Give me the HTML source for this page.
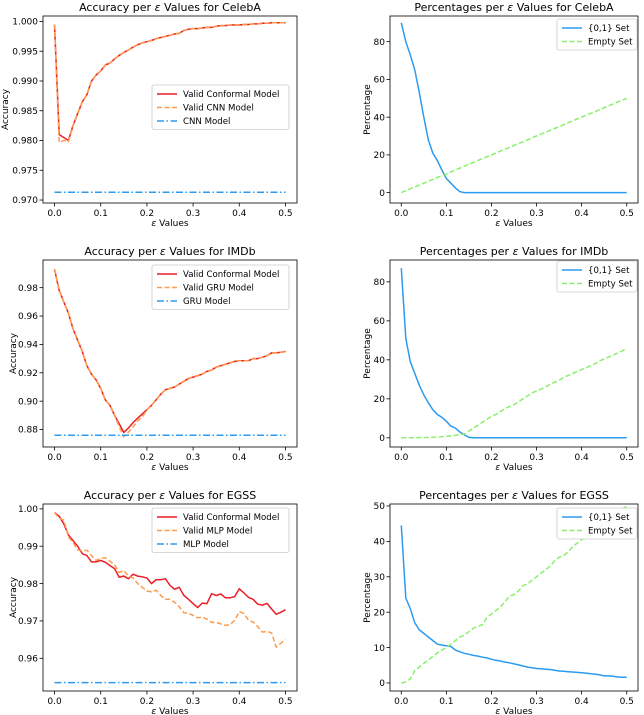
<!DOCTYPE html>
<html><head><meta charset="utf-8">
<style>
body{margin:0;background:#fff;}
svg{display:block;font-family:"DejaVu Sans","Liberation Sans",sans-serif;}
</style></head>
<body>
<svg id="fig" width="644" height="715" viewBox="0 0 644 715" xmlns="http://www.w3.org/2000/svg"></svg>
<script>
// ---- data ----
const xVals = [0,0.01,0.02,0.03,0.04,0.05,0.06,0.07,0.08,0.09,0.10,0.11,0.12,0.13,0.14,0.15,0.16,0.17,0.18,0.19,0.20,0.21,0.22,0.23,0.24,0.25,0.26,0.27,0.28,0.29,0.30,0.31,0.32,0.33,0.34,0.35,0.36,0.37,0.38,0.39,0.40,0.41,0.42,0.43,0.44,0.45,0.46,0.47,0.48,0.49,0.50];
const xTicks = [0,0.1,0.2,0.3,0.4,0.5];
const xTickLabels = ["0.0","0.1","0.2","0.3","0.4","0.5"];

const celebaConformal = [0.9995,0.981,0.9805,0.980,0.9825,0.9845,0.9865,0.9877,0.990,0.991,0.9917,0.9927,0.9930,0.9937,0.9943,0.9948,0.9952,0.9957,0.9961,0.9964,0.9966,0.9968,0.9971,0.9973,0.9975,0.9977,0.9979,0.9980,0.9985,0.9987,0.9988,0.9988,0.9989,0.9990,0.9990,0.9992,0.9993,0.9993,0.9994,0.9994,0.9994,0.9995,0.9995,0.9996,0.9996,0.9997,0.9997,0.9998,0.9998,0.9998,0.9998];
const celebaValidCnn = [0.9995,0.9797,0.9800,0.9798,0.9825,0.9845,0.9865,0.9877,0.990,0.991,0.9917,0.9927,0.9930,0.9937,0.9943,0.9948,0.9952,0.9957,0.9961,0.9964,0.9966,0.9968,0.9971,0.9973,0.9975,0.9977,0.9979,0.9980,0.9985,0.9987,0.9988,0.9988,0.9989,0.9990,0.9990,0.9992,0.9993,0.9993,0.9994,0.9994,0.9994,0.9995,0.9995,0.9996,0.9996,0.9997,0.9997,0.9998,0.9998,0.9998,0.9998];
const celebaCnn = 0.9713;
const celebaYTicks = [0.970,0.975,0.980,0.985,0.990,0.995,1.000];
const celebaYLabels = ["0.970","0.975","0.980","0.985","0.990","0.995","1.000"];
const celebaSet01 = [90,80,73,65,53,40,28,21,17,12,7.5,5,2.5,0.5,0,0,0,0,0,0,0,0,0,0,0,0,0,0,0,0,0,0,0,0,0,0,0,0,0,0,0,0,0,0,0,0,0,0,0,0,0];
const celebaEmpty = [0,1,2,3,4,5,6,7,8,9,9.8,11,12,13,14,15,16,17,18,19,20,21,22,23,24,25,26,27,28,29,30,31,32,33,34,35,36,37,38,39,40,41,42,43,44,45,46,47,48,49,50];

const imdbConformal = [0.993,0.978,0.970,0.962,0.951,0.943,0.935,0.925,0.919,0.915,0.909,0.901,0.897,0.890,0.884,0.878,0.881,0.885,0.888,0.891,0.894,0.897,0.901,0.905,0.908,0.909,0.910,0.912,0.914,0.916,0.917,0.918,0.919,0.921,0.922,0.924,0.925,0.926,0.927,0.928,0.9285,0.9285,0.9285,0.930,0.930,0.931,0.932,0.934,0.934,0.9345,0.935];
const imdbValidGru = [0.993,0.978,0.970,0.962,0.951,0.943,0.935,0.925,0.919,0.915,0.909,0.901,0.897,0.890,0.882,0.875,0.878,0.882,0.886,0.889,0.894,0.897,0.901,0.905,0.908,0.909,0.910,0.912,0.914,0.916,0.917,0.918,0.919,0.921,0.922,0.924,0.925,0.926,0.927,0.928,0.9285,0.9285,0.9285,0.930,0.930,0.931,0.932,0.934,0.934,0.9345,0.935];
const imdbGru = 0.876;
const imdbYTicks = [0.88,0.90,0.92,0.94,0.96,0.98];
const imdbYLabels = ["0.88","0.90","0.92","0.94","0.96","0.98"];
const imdbSet01 = [87,51,39,33,27,22,18,14.5,12,10.5,8.5,6,5,3,1.5,0.2,0,0,0,0,0,0,0,0,0,0,0,0,0,0,0,0,0,0,0,0,0,0,0,0,0,0,0,0,0,0,0,0,0,0,0];
const imdbEmpty = [0,0,0,0,0.1,0.1,0.2,0.3,0.5,0.6,0.8,1.0,1.3,1.6,2.0,3.5,5,6.5,8,9.5,11,12,13.5,15,16,17,18.5,20,21.5,23,24,25,26,27.5,28.5,29.5,31,32,33,34,35,36,37,38,39.5,40.5,41.5,42.5,43.5,44.5,46];

const egssConformal = [0.999,0.998,0.996,0.993,0.9915,0.990,0.988,0.9875,0.9858,0.9858,0.9862,0.9857,0.9848,0.984,0.9817,0.982,0.9813,0.9825,0.982,0.9818,0.9815,0.980,0.981,0.981,0.9813,0.9795,0.9785,0.979,0.9768,0.9758,0.9746,0.9736,0.9748,0.9746,0.9773,0.9768,0.9772,0.9762,0.9762,0.9765,0.9786,0.9775,0.9763,0.9758,0.9745,0.9742,0.9747,0.9732,0.9718,0.9723,0.973];
const egssValidMlp = [0.999,0.9975,0.997,0.9925,0.991,0.989,0.9888,0.9889,0.9875,0.9862,0.9868,0.9869,0.986,0.985,0.983,0.9835,0.982,0.9815,0.980,0.979,0.978,0.9778,0.9782,0.9768,0.9758,0.9758,0.975,0.9738,0.9722,0.972,0.9715,0.9708,0.971,0.9705,0.9696,0.9696,0.9692,0.9688,0.969,0.9702,0.9725,0.972,0.9702,0.9697,0.9685,0.967,0.9672,0.9668,0.963,0.964,0.965];
const egssMlp = 0.9535;
const egssYTicks = [0.96,0.97,0.98,0.99,1.00];
const egssYLabels = ["0.96","0.97","0.98","0.99","1.00"];
const egssSet01 = [44.5,24,21,17,15,14,13,12,11,10.7,10.5,10.3,9.3,8.8,8.4,8.1,7.8,7.6,7.3,7.1,6.7,6.4,6.2,5.9,5.7,5.4,5.1,4.8,4.5,4.3,4.1,4.0,3.9,3.8,3.6,3.4,3.3,3.2,3.1,3.0,2.9,2.8,2.6,2.5,2.3,2.0,2.0,1.9,1.7,1.6,1.6];
const egssEmpty = [0,0.3,1.2,3.5,4.5,5.5,6.5,7.5,8.5,9.3,10,11,12,13,13.5,14.5,15.5,16,16.5,18.5,19.5,20.5,21.5,23,24.5,25,26,27.5,28,29,30,31,32,33,34.5,35.5,36,37,38.5,39.5,40.5,41,42,43,44,45,46,47,48,49,50];

const pctTicksA = [0,20,40,60,80];
const pctLabelsA = ["0","20","40","60","80"];
const pctTicksB = [0,10,20,30,40,50];
const pctLabelsB = ["0","10","20","30","40","50"];

// ---- drawing ----
const NS="http://www.w3.org/2000/svg";
const fig=document.getElementById('fig');
function mk(tag,attrs,parent){const e=document.createElementNS(NS,tag);for(const k in attrs)e.setAttribute(k,attrs[k]);(parent||fig).appendChild(e);return e;}
function txt(s,attrs,parent){const e=mk('text',attrs,parent);e.textContent=s;return e;}

function panel(o){
  const g=mk('g',{});
  
  
  const L=o.left,R=o.left+o.w,T=o.top,B=o.top+187;
  const xs=v=>L+(v+0.025)/0.55*(R-L);
  const ys=v=>B-(v-o.ymin)/(o.ymax-o.ymin)*(B-T);
  o.series.forEach(s=>{
    let pts;
    if(s.constant!==undefined){pts=[[xs(xVals[0]),ys(s.constant)],[xs(xVals[xVals.length-1]),ys(s.constant)]];}
    else pts=s.data.map((v,i)=>[xs(xVals[i]),ys(v)]);
    const p=mk('polyline',{points:pts.map(p=>p[0].toFixed(1)+','+p[1].toFixed(1)).join(' '),fill:'none',stroke:s.color,'stroke-width':1.5,'stroke-dasharray':s.dash||'none'},g);
    
    
  });
  const fr=mk('rect',{x:L,y:T,width:R-L,height:B-T,fill:'none',stroke:'#000','stroke-width':0.8},g);
  
  
  xTicks.forEach((t,i)=>{
    const x=xs(t);
    mk('line',{x1:x,x2:x,y1:B,y2:B+3.5,stroke:'#000','stroke-width':0.8},g);
    const lt=txt(xTickLabels[i],{x:x,y:B+13,'font-size':9,'text-anchor':'middle',fill:'#000'},g);
    
    
  });
  o.yTicks.forEach((t,i)=>{
    const y=ys(t);
    mk('line',{x1:L-3.5,x2:L,y1:y,y2:y,stroke:'#000','stroke-width':0.8},g);
    const lt=txt(o.yLabels[i],{x:L-5,y:y+3.2,'font-size':9,'text-anchor':'end',fill:'#000'},g);
    
    
  });
  const ttl=txt('',{x:(L+R)/2,y:T-5,'font-size':11,'text-anchor':'middle',fill:'#000'},g);
  ttl.innerHTML=o.title[0]+'<tspan font-style="italic">ε</tspan>'+o.title[1];
  
  
  const xl=txt('',{x:(L+R)/2,y:B+23,'font-size':9,'text-anchor':'middle',fill:'#000'},g);
  xl.innerHTML='<tspan font-style="italic">ε</tspan> Values';
  
  
  const ylx=L-o.ylabOff;
  const yl=txt(o.ylabel,{x:ylx,y:(T+B)/2,'font-size':9,'text-anchor':'middle',fill:'#000',transform:`rotate(-90 ${ylx} ${(T+B)/2})`},g);
  
  
  const lg=mk('g',{},g);
  
  
  mk('rect',{x:o.leg.x,y:o.leg.y,width:o.leg.w,height:o.series.length*13.5+4,fill:'#fff','fill-opacity':0.85,stroke:'#ccc','stroke-width':0.8,rx:2},lg);
  o.series.forEach((s,i)=>{
    const yy=o.leg.y+9+i*13.5;
    mk('line',{x1:o.leg.x+5,x2:o.leg.x+25,y1:yy,y2:yy,stroke:s.color,'stroke-width':1.5,'stroke-dasharray':s.dash||'none'},lg);
    const e=txt(s.label,{x:o.leg.x+31,y:yy+3.2,'font-size':8.6,fill:'#000'},lg);
    
    
  });
}
const RED='#ee1c25',ORG='#ff9b4a',BLU='#2c9bef',GRN='#88f06a';
panel({name:'celeba-accuracy-chart',left:43,w:254,top:16,ymin:0.96950,ymax:1.00092,yTicks:celebaYTicks,yLabels:celebaYLabels,title:['Accuracy per ',' Values for CelebA'],ylabel:'Accuracy',ylabOff:35,leg:{x:152,y:85,w:137},
  series:[{key:'valid-conformal',label:'Valid Conformal Model',data:celebaConformal,color:RED},{key:'valid-cnn',label:'Valid CNN Model',data:celebaValidCnn,color:ORG,dash:'5,2.5'},{key:'cnn',label:'CNN Model',constant:celebaCnn,color:BLU,dash:'7,2.5,1.5,2.5'}]});
panel({name:'celeba-percentage-chart',left:390,w:248,top:16,ymin:-5.5,ymax:93.6,yTicks:pctTicksA,yLabels:pctLabelsA,title:['Percentages per ',' Values for CelebA'],ylabel:'Percentage',ylabOff:20,leg:{x:557,y:19,w:80},
  series:[{key:'set01',label:'{0,1} Set',data:celebaSet01,color:BLU},{key:'empty-set',label:'Empty Set',data:celebaEmpty,color:GRN,dash:'5,2.5'}]});
panel({name:'imdb-accuracy-chart',left:43,w:254,top:260,ymin:0.8677,ymax:0.9995,yTicks:imdbYTicks,yLabels:imdbYLabels,title:['Accuracy per ',' Values for IMDb'],ylabel:'Accuracy',ylabOff:27,leg:{x:152,y:265,w:137},
  series:[{key:'valid-conformal',label:'Valid Conformal Model',data:imdbConformal,color:RED},{key:'valid-gru',label:'Valid GRU Model',data:imdbValidGru,color:ORG,dash:'5,2.5'},{key:'gru',label:'GRU Model',constant:imdbGru,color:BLU,dash:'7,2.5,1.5,2.5'}]});
panel({name:'imdb-percentage-chart',left:390,w:248,top:260,ymin:-4.7,ymax:91.2,yTicks:pctTicksA,yLabels:pctLabelsA,title:['Percentages per ',' Values for IMDb'],ylabel:'Percentage',ylabOff:20,leg:{x:557,y:261,w:80},
  series:[{key:'set01',label:'{0,1} Set',data:imdbSet01,color:BLU},{key:'empty-set',label:'Empty Set',data:imdbEmpty,color:GRN,dash:'5,2.5'}]});
panel({name:'egss-accuracy-chart',left:43,w:254,top:504,ymin:0.95124,ymax:1.0013,yTicks:egssYTicks,yLabels:egssYLabels,title:['Accuracy per ',' Values for EGSS'],ylabel:'Accuracy',ylabOff:27,leg:{x:152,y:508,w:137},
  series:[{key:'valid-conformal',label:'Valid Conformal Model',data:egssConformal,color:RED},{key:'valid-mlp',label:'Valid MLP Model',data:egssValidMlp,color:ORG,dash:'5,2.5'},{key:'mlp',label:'MLP Model',constant:egssMlp,color:BLU,dash:'7,2.5,1.5,2.5'}]});
panel({name:'egss-percentage-chart',left:390,w:248,top:504,ymin:-2.26,ymax:50.56,yTicks:pctTicksB,yLabels:pctLabelsB,title:['Percentages per ',' Values for EGSS'],ylabel:'Percentage',ylabOff:20,leg:{x:557,y:508,w:80},
  series:[{key:'set01',label:'{0,1} Set',data:egssSet01,color:BLU},{key:'empty-set',label:'Empty Set',data:egssEmpty,color:GRN,dash:'5,2.5'}]});
</script>
</body></html>
